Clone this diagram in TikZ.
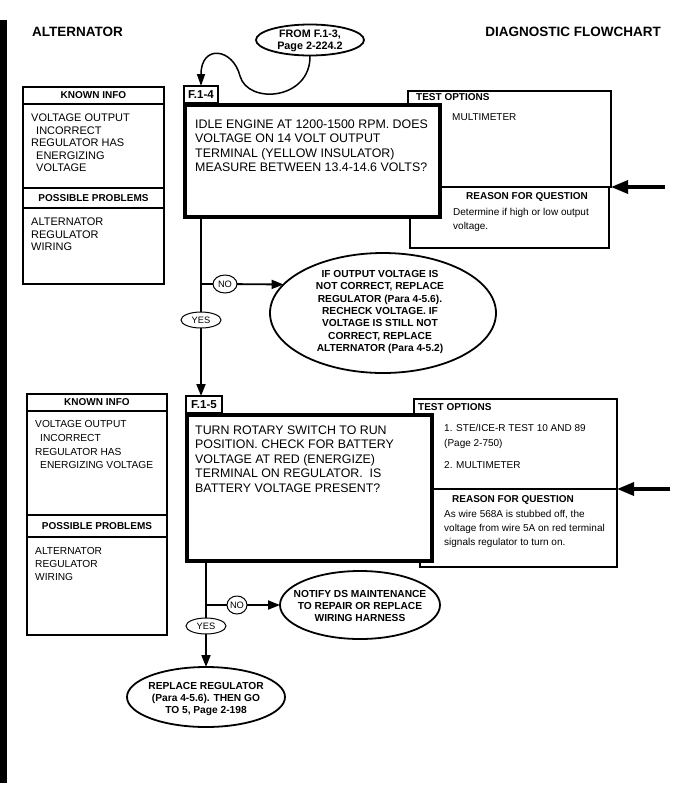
\documentclass[tikz,border=0pt]{standalone}
\usepackage{fontspec}
\setmainfont{Liberation Sans}
\usepackage{tikz}
\usetikzlibrary{arrows.meta,shapes.geometric,positioning}
\definecolor{inkblack}{HTML}{000000}
\tikzset{every node/.append style={font=\rmfamily}}
\tikzset{
  titletext/.style={inner sep=0pt,font=\bfseries\fontsize{13.5}{16}\selectfont},
  tagbox/.style={draw=inkblack,line width=1.5pt,fill=white,inner sep=0pt,outer sep=0pt,
    minimum height=17pt,anchor=south west,font=\bfseries\fontsize{11.5}{13}\selectfont},
  askbox/.style={draw=inkblack,line width=4pt,fill=white,inner sep=0pt,outer sep=0pt,anchor=north west},
  optbox/.style={draw=inkblack,line width=1.8pt,fill=white,inner sep=0pt,outer sep=0pt,anchor=north west},
  whybox/.style={draw=inkblack,line width=1.3pt,fill=white,inner sep=0pt,outer sep=0pt,anchor=north west},
  infobox/.style={draw=inkblack,line width=1.2pt,inner sep=0pt,outer sep=0pt,minimum width=141pt,
    font=\bfseries\fontsize{10}{12}\selectfont},
  asktext/.style={anchor=north west,inner sep=0pt,align=left,font=\fontsize{12.4}{14.5}\selectfont},
  sidetext/.style={anchor=north west,inner sep=0pt,align=left,font=\fontsize{11}{12.5}\selectfont},
  smalltext/.style={anchor=north west,inner sep=0pt,align=left,font=\fontsize{10}{14}\selectfont},
  headtext/.style={inner sep=0pt,font=\bfseries\fontsize{10}{12}\selectfont},
  oval/.style={draw=inkblack,ellipse,line width=1.8pt,fill=white,inner sep=0pt,outer sep=0pt},
  ovaltext/.style={inner sep=0pt,align=center,font=\bfseries\fontsize{10.2}{12.4}\selectfont},
  pill/.style={draw=inkblack,ellipse,line width=1pt,fill=white,inner sep=0pt,outer sep=0pt,
    font=\fontsize{9.3}{11}\selectfont},
  flow/.style={draw=inkblack,line width=1.8pt,-{Triangle[length=12pt,width=9pt]}},
  entry/.style={draw=inkblack,line width=3.3pt,-{Triangle[length=17pt,width=13pt]}},
}

\begin{document}
\begin{tikzpicture}[x=1pt,y=-1pt]
  \useasboundingbox (0,0) rectangle (684,801);
  \fill[inkblack] (0,20) rectangle (7,783);
  \node[titletext,anchor=west] (unit) at (32,32) {ALTERNATOR};
  \node[titletext,anchor=east] (kind) at (661,32) {DIAGNOSTIC FLOWCHART};

  \node[oval,minimum width=108pt,minimum height=31pt] (from) at (310,40) {};
  \node[ovaltext,font=\bfseries\fontsize{10.8}{11.6}\selectfont] (fromtxt) at (310,41) {FROM F.1-3,\\Page 2-224.2};

  \node[infobox,anchor=north west,minimum height=17pt] (known4) at (23,87) {KNOWN INFO};
  \node[infobox,below=0pt of known4,minimum height=84pt] (facts4) {};
  \node[infobox,below=0pt of facts4,minimum height=20pt] (trouble4) {POSSIBLE PROBLEMS};
  \node[infobox,below=0pt of trouble4,minimum height=76pt] (parts4) {};
  \node[sidetext] (facts4txt) at (31,114) {VOLTAGE OUTPUT\\\hspace*{5pt}INCORRECT\\REGULATOR HAS\\\hspace*{5pt}ENERGIZING\\\hspace*{5pt}VOLTAGE};
  \node[sidetext] (parts4txt) at (31,218) {ALTERNATOR\\REGULATOR\\WIRING};

  \node[whybox,minimum width=199pt,minimum height=61pt] (why4) at (410,187) {};
  \node[optbox,minimum width=203pt,minimum height=96pt] (opt4) at (408,91) {};
  \node[headtext,anchor=west] (opt4head) at (416,97.5) {TEST OPTIONS};
  \node[smalltext,anchor=west] (opt4txt) at (452,117) {MULTIMETER};
  \node[headtext] (why4head) at (527,197) {REASON FOR QUESTION};
  \node[smalltext] (why4txt) at (453,208.4) {Determine if high or low output\\voltage.};

  \node[tagbox,minimum width=34pt] (f4tag) at (184,103) {F.1-4};
  \node[askbox,minimum width=255pt,minimum height=112pt] (ask4) at (185,105) {};
  \node[asktext] (ask4txt) at (195,119.5) {IDLE ENGINE AT 1200-1500 RPM. DOES\\VOLTAGE ON 14 VOLT OUTPUT\\TERMINAL (YELLOW INSULATOR)\\MEASURE BETWEEN 13.4-14.6 VOLTS?};

  \node[oval,minimum width=226pt,minimum height=120pt] (fix4) at (383,313) {};
  \node[ovaltext] (fix4txt) at (380,312) {IF OUTPUT VOLTAGE IS\\NOT CORRECT, REPLACE\\REGULATOR (Para 4-5.6).\\RECHECK VOLTAGE. IF\\VOLTAGE IS STILL NOT\\CORRECT, REPLACE\\ALTERNATOR (Para 4-5.2)};

  \node[infobox,anchor=north west,minimum height=17pt,minimum width=140pt] (known5) at (27,394) {KNOWN INFO};
  \node[infobox,below=0pt of known5,minimum height=104pt,minimum width=140pt] (facts5) {};
  \node[infobox,below=0pt of facts5,minimum height=22pt,minimum width=140pt] (trouble5) {POSSIBLE PROBLEMS};
  \node[infobox,below=0pt of trouble5,minimum height=98pt,minimum width=140pt] (parts5) {};
  \node[sidetext,font=\fontsize{10.2}{13.7}\selectfont] (facts5txt) at (35,420.3) {VOLTAGE OUTPUT\\\hspace*{5pt}INCORRECT\\REGULATOR HAS\\\hspace*{5pt}ENERGIZING VOLTAGE};
  \node[sidetext,font=\fontsize{10.2}{12.7}\selectfont] (parts5txt) at (35,547.3) {ALTERNATOR\\REGULATOR\\WIRING};

  \node[whybox,minimum width=197pt,minimum height=78pt] (why5) at (420,489) {};
  \node[optbox,minimum width=203pt,minimum height=90pt] (opt5) at (414,399) {};
  \node[headtext,anchor=west] (opt5head) at (418,407) {TEST OPTIONS};
  \node[smalltext,font=\fontsize{10}{15}\selectfont] (opt5txt) at (444,424.4) {1. STE/ICE-R TEST 10 AND 89\\(Page 2-750)\\[7pt]2. MULTIMETER};
  \node[headtext] (why5head) at (513,500) {REASON FOR QUESTION};
  \node[smalltext] (why5txt) at (444,510.4) {As wire 568A is stubbed off, the\\voltage from wire 5A on red terminal\\signals regulator to turn on.};

  \node[tagbox,minimum width=36pt] (f5tag) at (186,413) {F.1-5};
  \node[askbox,minimum width=245pt,minimum height=146pt] (ask5) at (187,415) {};
  \node[asktext] (ask5txt) at (195,425.5) {TURN ROTARY SWITCH TO RUN\\POSITION. CHECK FOR BATTERY\\VOLTAGE AT RED (ENERGIZE)\\TERMINAL ON REGULATOR.\ \ IS\\BATTERY VOLTAGE PRESENT?};

  \node[oval,minimum width=160pt,minimum height=68pt] (notify) at (360,605) {};
  \node[ovaltext] (notifytxt) at (360,606) {NOTIFY DS MAINTENANCE\\TO REPAIR OR REPLACE\\WIRING HARNESS};
  \node[oval,minimum width=158pt,minimum height=60pt] (fin) at (206,697) {};
  \node[ovaltext] (fintxt) at (206,699) {REPLACE REGULATOR\\(Para 4-5.6). THEN GO\\TO 5, Page 2-198};

  \draw[line width=1.5pt,-{Triangle[length=12pt,width=8pt]}] (from.south)
    .. controls (311,100) and (248,105) .. (240,76)
    .. controls (233,48) and (201,44) .. (f4tag.north);
  \coordinate (in4) at (665,187);
  \draw[entry] (in4) -- (opt4.south east);
  \coordinate (in5) at (670,489);
  \draw[entry] (in5) -- (opt5.south east);

  \draw[flow] (ask4.south -| f4tag.center) -- (f4tag.center |- f5tag.north);
  \coordinate (j4) at (201,284);
  \node[pill,minimum width=24pt,minimum height=18pt] (no4) at (225,284) {NO};
  \draw[line width=1.8pt] (j4) -- (no4);
  \draw[flow] (no4) -- (fix4.164);
  \node[pill,minimum width=40pt,minimum height=16pt] (yes4) at (201,320) {YES};

  \draw[flow] (ask5.south -| fin.north) -- (fin.north);
  \coordinate (j5) at (206,605);
  \node[pill,minimum width=20pt,minimum height=18pt] (no5) at (237,605) {NO};
  \draw[line width=1.8pt] (j5) -- (no5);
  \draw[flow] (no5) -- (notify);
  \node[pill,minimum width=40pt,minimum height=16pt] (yes5) at (206,626) {YES};
\end{tikzpicture}
\end{document}
